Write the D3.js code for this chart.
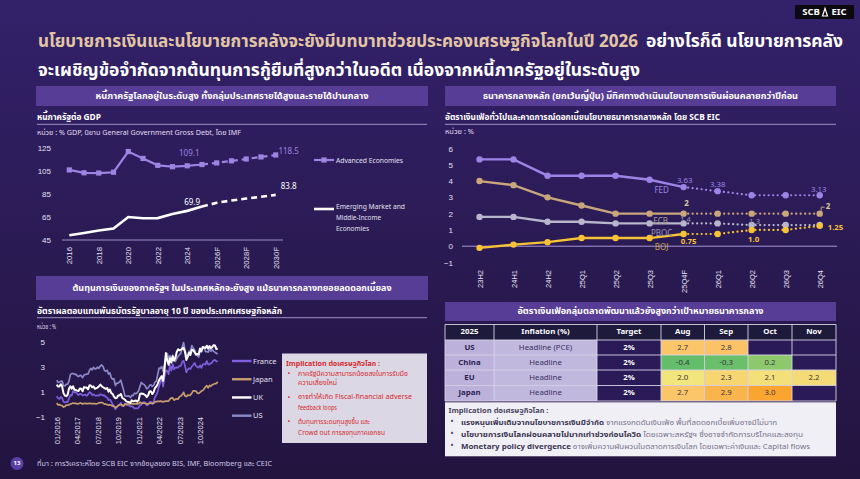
<!DOCTYPE html>
<html><head><meta charset="utf-8">
<script src="https://cdn.jsdelivr.net/npm/d3@7"></script>
<style>
html,body{margin:0;padding:0;background:#2b1b57;}
svg{display:block;font-family:"Noto Sans Thai","Noto Sans","Open Sans","DejaVu Sans",sans-serif;}
</style></head><body>
<svg id="c" width="860" height="479"></svg>
<script>
// ---------- DATA ----------
const debtYears = ["2016","2017","2018","2019","2020","2021","2022","2023","2024","2025","2026F","2027F","2028F","2029F","2030F"];
const debtAdvanced = [105.5,103.0,102.8,103.5,121.5,115.5,109.5,108.3,109.1,110.2,111.6,113.4,115.0,116.8,118.5];
const debtEmerging = [48.7,50.7,52.8,54.6,64.5,63.5,63.6,67.2,69.9,73.6,76.9,78.9,80.6,82.2,83.8];
const debtTickLabels = ["2016","2018","2020","2022","2024","2026F","2028F","2030F"];
const debtYTicks = [45,65,85,105,125];

const policyPeriods = ["23H2","24H1","24H2","25Q1","25Q2","25Q3","25Q4F","26Q1","26Q2","26Q3","26Q4"];
const fedRate  = [5.33,5.33,4.33,4.33,4.33,4.08,3.63,3.38,3.13,3.13,3.13];
const ecbRate  = [4.0,3.75,3.0,2.5,2.0,2.0,2.0,2.0,2.0,2.0,2.0];
const pbocRate = [1.8,1.8,1.5,1.5,1.4,1.4,1.4,1.4,1.3,1.3,1.3];
const bojRate  = [-0.1,0.1,0.25,0.5,0.5,0.5,0.75,0.75,1.0,1.0,1.25];
const policyYTicks = [-1,0,1,2,3,4,5,6];

const bondUS = [1.92,1.74,1.78,1.83,1.85,1.49,1.46,1.58,1.60,1.84,2.37,2.45,
 2.45,2.39,2.40,2.28,2.21,2.31,2.29,2.12,2.33,2.38,2.41,2.41,
 2.72,2.87,2.74,2.95,2.83,2.85,2.96,2.86,3.06,3.14,3.01,2.69,
 2.63,2.72,2.41,2.51,2.13,2.00,2.02,1.50,1.68,1.69,1.78,1.92,
 1.51,1.13,0.67,0.64,0.65,0.66,0.53,0.70,0.68,0.88,0.84,0.92,
 1.07,1.44,1.74,1.63,1.58,1.45,1.22,1.31,1.49,1.55,1.43,1.51,
 1.78,1.83,2.32,2.89,2.85,3.01,2.65,3.19,3.83,4.05,3.61,3.88,
 3.51,3.92,3.47,3.42,3.64,3.84,3.96,4.09,4.57,4.93,4.33,3.88,
 3.91,4.25,4.20,4.68,4.50,4.36,4.03,3.91,3.78,4.28,4.17,4.57,
 4.54,4.21,4.21,4.16,4.40,4.23,4.37,4.23,4.15,4.08,4.02];
const bondUK = [1.56,1.41,1.42,1.60,1.43,0.87,0.69,0.64,0.75,1.25,1.43,1.24,
 1.43,1.15,1.14,1.09,1.05,1.26,1.23,1.04,1.37,1.33,1.33,1.19,
 1.51,1.50,1.35,1.42,1.23,1.28,1.33,1.43,1.57,1.44,1.36,1.28,
 1.22,1.30,1.00,1.18,0.89,0.83,0.61,0.48,0.49,0.69,0.70,0.82,
 0.52,0.44,0.36,0.23,0.18,0.17,0.10,0.31,0.23,0.26,0.30,0.20,
 0.33,0.82,0.85,0.84,0.80,0.72,0.57,0.71,1.02,1.03,0.81,0.97,
 1.30,1.41,1.61,1.91,2.10,2.24,1.86,2.80,4.09,3.51,3.16,3.67,
 3.33,3.83,3.49,3.72,4.18,4.39,4.31,4.36,4.44,4.51,4.18,3.54,
 3.79,4.12,3.93,4.35,4.32,4.17,3.97,4.02,4.00,4.45,4.24,4.57,
 4.54,4.49,4.68,4.44,4.65,4.49,4.57,4.72,4.70,4.41,4.45];
const bondFrance = [0.65,0.47,0.42,0.58,0.50,0.19,0.13,0.18,0.18,0.46,0.74,0.68,
 1.04,0.94,0.97,0.83,0.73,0.82,0.81,0.70,0.74,0.77,0.67,0.79,
 0.97,0.90,0.72,0.79,0.70,0.67,0.71,0.68,0.80,0.76,0.69,0.71,
 0.57,0.54,0.33,0.37,0.21,0.00,-0.18,-0.40,-0.28,-0.07,-0.05,0.12,
 -0.16,-0.15,0.03,0.05,-0.06,-0.11,-0.18,-0.15,-0.24,-0.34,-0.33,-0.34,
 -0.28,-0.07,-0.05,0.11,0.17,0.13,-0.10,-0.04,0.16,0.20,0.02,0.20,
 0.57,0.73,0.98,1.46,1.72,2.26,1.41,2.14,2.72,2.66,2.40,3.12,
 2.69,3.21,2.79,2.93,2.94,2.93,3.06,3.07,3.40,3.47,3.09,2.56,
 2.75,2.89,2.81,3.01,3.14,3.30,3.07,2.98,2.92,3.11,2.90,3.19,
 3.21,3.17,3.45,3.19,3.18,3.28,3.35,3.51,3.54,3.42,3.45];
const bondJapan = [0.10,-0.06,-0.03,-0.08,-0.11,-0.23,-0.19,-0.07,-0.08,-0.05,0.02,0.05,
 0.09,0.06,0.07,0.02,0.04,0.08,0.08,0.01,0.06,0.07,0.04,0.05,
 0.08,0.05,0.04,0.05,0.04,0.03,0.06,0.11,0.13,0.13,0.09,0.00,
 0.00,-0.03,-0.08,-0.04,-0.09,-0.16,-0.16,-0.27,-0.21,-0.13,-0.07,-0.02,
 -0.06,-0.15,0.02,-0.04,0.00,0.03,0.02,0.05,0.01,0.04,0.02,0.02,
 0.05,0.16,0.09,0.09,0.08,0.06,0.02,0.02,0.07,0.10,0.06,0.07,
 0.18,0.20,0.22,0.23,0.24,0.23,0.18,0.23,0.25,0.25,0.25,0.42,
 0.49,0.50,0.32,0.39,0.43,0.40,0.60,0.65,0.77,0.95,0.67,0.61,
 0.73,0.71,0.73,0.88,1.07,1.06,1.05,0.90,0.86,0.95,1.05,1.10,
 1.24,1.38,1.49,1.31,1.51,1.43,1.56,1.60,1.65,1.66,1.80];
const bondTickLabels = ["01/2016","04/2017","07/2018","10/2019","01/2021","04/2022","07/2023","10/2024"];
const bondYTicks = [-1,1,3,5];

const inflCountries = ["US","China","EU","Japan"];
const inflMeasures = ["Headline (PCE)","Headline","Headline","Headline"];
const inflTargets = ["2%","2%","2%","2%"];
const inflHeaders = ["2025","Inflation (%)","Target","Aug","Sep","Oct","Nov"];
const inflUS = [2.7,2.8,null,null];
const inflChina = [-0.4,-0.3,0.2,null];
const inflEU = [2.0,2.3,2.1,2.2];
const inflJapan = [2.7,2.9,3.0,null];

// ---------- SETUP ----------
const svg = d3.select("#c");
const defs = svg.append("defs");
const gr = defs.append("linearGradient").attr("id","bg").attr("x1",0).attr("y1",0).attr("x2",0).attr("y2",1);
gr.append("stop").attr("offset","0%").attr("stop-color","#33216a");
gr.append("stop").attr("offset","100%").attr("stop-color","#22143f");
svg.append("rect").attr("width",860).attr("height",479).attr("fill","url(#bg)");

function fit(t, w){
  const L = t.node().getComputedTextLength();
  if (L > 0 && w) t.attr("textLength", w).attr("lengthAdjust","spacingAndGlyphs");
  return t;
}
function txt(p, x, y, s, o={}){
  const t = p.append("text").attr("x",x).attr("y",y).text(s)
    .attr("font-size",o.size||8).attr("fill",o.fill||"#fff")
    .attr("font-weight",o.bold?"bold":"normal")
    .attr("text-anchor",o.anchor||"start")
    .attr("dominant-baseline","central");
  if (o.w) fit(t,o.w);
  return t;
}

// ---------- TITLE ----------
txt(svg,38,42,"นโยบายการเงินและนโยบายการคลังจะยังมีบทบาทช่วยประคองเศรษฐกิจโลกในปี 2026",{size:17,bold:true,fill:"#e2c6a4",w:600});
txt(svg,646,42,"อย่างไรก็ดี นโยบายการคลัง",{size:17,bold:true,w:197});
txt(svg,38,71,"จะเผชิญข้อจำกัดจากต้นทุนการกู้ยืมที่สูงกว่าในอดีต เนื่องจากหนี้ภาครัฐอยู่ในระดับสูง",{size:17,bold:true,w:602});
// logo
svg.append("rect").attr("x",795).attr("y",5).attr("width",59).attr("height",14).attr("fill","#0a0a10");
txt(svg,811,12.3,"SCB",{size:9.5,bold:true,anchor:"middle"});
svg.append("path").attr("d","M822.5,16 L825,8.5 L827.5,16 Z").attr("fill","none").attr("stroke","#fff").attr("stroke-width",1.2);
txt(svg,839,12.3,"EIC",{size:9.5,bold:true,anchor:"middle"});

// ---------- PANEL HEADERS ----------
const barFill = "#573d96";
function header(x,y,w,h,s,tw){
  svg.append("rect").attr("x",x).attr("y",y).attr("width",w).attr("height",h).attr("fill",barFill);
  txt(svg,x+w/2,y+h/2,s,{size:8.5,bold:true,anchor:"middle",w:tw});
}
header(36,86,392,20,"หนี้ภาครัฐโลกอยู่ในระดับสูง ทั้งกลุ่มประเทศรายได้สูงและรายได้ปานกลาง",273);
header(445,86,391,20,"ธนาคารกลางหลัก (ยกเว้นญี่ปุ่น) มีทิศทางดำเนินนโยบายการเงินผ่อนคลายกว่าปีก่อน",315);
header(36,276,392,24,"ต้นทุนการเงินของภาครัฐฯ ในประเทศหลักจะยังสูง แม้ธนาคารกลางทยอยลดดอกเบี้ยลง",319);
header(445,302,391,19,"อัตราเงินเฟ้อกลุ่มตลาดพัฒนาแล้วยังสูงกว่าเป้าหมายธนาคารกลาง",246);

function subtitle(x,y,s,w,x2,uy,unit,uw,ly){
  txt(svg,x,y,s,{size:8.5,bold:true,w:w});
  svg.append("line").attr("x1",x).attr("x2",x2).attr("y1",ly).attr("y2",ly).attr("stroke","#b9aee0").attr("stroke-width",0.8);
  txt(svg,x,uy,unit,{size:6.8,fill:"#e2ddf0",w:uw});
}
subtitle(37,117,"หนี้ภาครัฐต่อ GDP",64,427,132.5,"หน่วย : % GDP, นิยาม General Government Gross Debt, โดย IMF",204,124.3);
subtitle(445,117,"อัตราเงินเฟ้อทั่วไปและคาดการณ์ดอกเบี้ยนโยบายธนาคารกลางหลัก โดย SCB EIC",275,836,132,"หน่วย : %",29,124.3);
subtitle(37,311.5,"อัตราผลตอบแทนพันธบัตรรัฐบาลอายุ 10 ปี ของประเทศเศรษฐกิจหลัก",245,427,327.3,"หน่วย : %",19,317.7);

// ---------- CHART 1: DEBT ----------
const xD = d3.scalePoint().domain(debtYears).range([69.3,275.7]);
const yD = d3.scaleLinear().domain([45,125]).range([239.5,147.5]);
const g1 = svg.append("g");
g1.append("g").attr("transform","translate(51,0)")
  .call(d3.axisLeft(yD).tickValues(debtYTicks).tickFormat(d3.format("d")).tickSize(0).tickPadding(0))
  .call(a=>a.select(".domain").remove())
  .selectAll("text").attr("fill","#e4e0f0").attr("font-size",8);
g1.append("line").attr("x1",62).attr("x2",283).attr("y1",240).attr("y2",240).attr("stroke","#9d90c8").attr("stroke-width",1);
g1.append("g").attr("transform","translate(0,247)")
  .call(d3.axisBottom(xD).tickValues(debtTickLabels).tickSize(0))
  .call(a=>a.select(".domain").remove())
  .selectAll("text").attr("transform","rotate(-90)").attr("text-anchor","end")
  .attr("x",0).attr("y",0).attr("dy","0.34em").attr("fill","#e4e0f0").attr("font-size",7.8);

const fc1 = debtYears.indexOf("2025");
function series1(arr){ return debtYears.map((k,i)=>({k, v:arr[i], i})); }
const lD = d3.line().x(d=>xD(d.k)).y(d=>yD(d.v));
const ae = series1(debtAdvanced), em = series1(debtEmerging);
const aeCol = "#9c84e2";
g1.append("path").attr("d",lD(ae.slice(0,fc1+1))).attr("fill","none").attr("stroke",aeCol).attr("stroke-width",2.2);
g1.append("path").attr("d",lD(ae.slice(fc1))).attr("fill","none").attr("stroke",aeCol).attr("stroke-width",2.2).attr("stroke-dasharray","6,4");
g1.selectAll("rect.ae").data(ae).join("rect").attr("x",d=>xD(d.k)-2.6).attr("y",d=>yD(d.v)-2.6).attr("width",5.2).attr("height",5.2).attr("fill",aeCol);
g1.append("path").attr("d",lD(em.slice(0,fc1+1))).attr("fill","none").attr("stroke","#ffffff").attr("stroke-width",2.6);
g1.append("path").attr("d",lD(em.slice(fc1))).attr("fill","none").attr("stroke","#ffffff").attr("stroke-width",2.6).attr("stroke-dasharray","6,4");
const fmt1 = d3.format(".1f");
const iAE24 = debtYears.indexOf("2024"), iLast = debtYears.length-1;
txt(g1, xD(debtYears[iAE24])+2, yD(debtAdvanced[iAE24])-12, fmt1(debtAdvanced[iAE24]), {size:8,fill:"#9c84e2",anchor:"middle"});
txt(g1, xD(debtYears[iLast])+13, yD(debtAdvanced[iLast])-3, fmt1(debtAdvanced[iLast]), {size:8,fill:"#9c84e2",anchor:"middle"});
txt(g1, xD(debtYears[iAE24])+5, yD(debtEmerging[iAE24])-8, fmt1(debtEmerging[iAE24]), {size:8,fill:"#ffffff",anchor:"middle"});
txt(g1, xD(debtYears[iLast])+13, yD(debtEmerging[iLast])-8, fmt1(debtEmerging[iLast]), {size:8,fill:"#ffffff",anchor:"middle"});
// legend
g1.append("line").attr("x1",314).attr("x2",334).attr("y1",160).attr("y2",160).attr("stroke",aeCol).attr("stroke-width",2.2);
g1.append("rect").attr("x",321.4).attr("y",157.4).attr("width",5.2).attr("height",5.2).attr("fill",aeCol);
txt(g1,336,160,"Advanced Economies",{size:7.3,fill:"#e4e0f0",w:67});
g1.append("line").attr("x1",314).attr("x2",334).attr("y1",209).attr("y2",209).attr("stroke","#fff").attr("stroke-width",2.6);
txt(g1,336,206.7,"Emerging Market and",{size:7.3,fill:"#e4e0f0",w:69});
txt(g1,336,217.5,"Middle-Income",{size:7.3,fill:"#e4e0f0",w:45});
txt(g1,336,228.3,"Economies",{size:7.3,fill:"#e4e0f0",w:33});

// ---------- CHART 2: POLICY RATES ----------
const xP = d3.scalePoint().domain(policyPeriods).range([479.5,819.7]);
const yP = d3.scaleLinear().domain([-1,6]).range([262.5,148.5]);
const g2 = svg.append("g");
g2.append("g").attr("transform","translate(453,0)")
  .call(d3.axisLeft(yP).tickValues(policyYTicks).tickFormat(d3.format("d")).tickSize(0).tickPadding(0))
  .call(a=>a.select(".domain").remove())
  .selectAll("text").attr("fill","#e4e0f0").attr("font-size",8);
g2.append("line").attr("x1",462).attr("x2",837).attr("y1",yP(0)).attr("y2",yP(0)).attr("stroke","#a898d8").attr("stroke-width",1);
g2.append("g").attr("transform","translate(0,270)")
  .call(d3.axisBottom(xP).tickSize(0))
  .call(a=>a.select(".domain").remove())
  .selectAll("text").attr("transform","rotate(-90)").attr("text-anchor","end")
  .attr("x",0).attr("y",0).attr("dy","0.34em").attr("fill","#e4e0f0").attr("font-size",7.5);

const fc2 = policyPeriods.indexOf("25Q4F");
const lP = d3.line().x(d=>xP(d.k)).y(d=>yP(d.v));
const polSeries = [
  {name:"PBOC", vals:pbocRate, col:"#b8b6cc"},
  {name:"ECB", vals:ecbRate, col:"#c9a67c"},
  {name:"FED", vals:fedRate, col:"#9c84e6"},
  {name:"BOJ", vals:bojRate, col:"#f7c235"}
];
polSeries.forEach(s=>{
  const d = policyPeriods.map((k,i)=>({k, v:s.vals[i]}));
  g2.append("path").attr("d",lP(d.slice(0,fc2+1))).attr("fill","none").attr("stroke",s.col).attr("stroke-width",2.4);
  g2.append("path").attr("d",lP(d.slice(fc2))).attr("fill","none").attr("stroke",s.col).attr("stroke-width",2.2)
    .attr("stroke-dasharray","0.1,4.4").attr("stroke-linecap","round");
  g2.selectAll(null).data(d).join("circle").attr("cx",p=>xP(p.k)).attr("cy",p=>yP(p.v)).attr("r",3.2).attr("fill",s.col);
});
const f2 = d3.format(".2f");
const P = (k)=>xP(k);
// FED labels
[[6,1,-6],[7,0,-6],[10,-1,-5.5]].forEach(([i,dx,dy])=>txt(g2,P(policyPeriods[i])+dx,yP(fedRate[i])+dy,f2(fedRate[i]),{size:7.8,fill:"#9c84e6",anchor:"middle"}));
txt(g2,P("25Q4F")-22,yP(fedRate[fc2])+4,"FED",{size:8,fill:"#9c84e6",anchor:"middle"});
// ECB
txt(g2,P("25Q4F")+3,yP(ecbRate[fc2])-10,d3.format("d")(ecbRate[fc2]),{size:8,bold:true,fill:"#d9c7a2",anchor:"middle"});
const xe = P("26Q4"), ye = yP(ecbRate[10]);
g2.append("path").attr("d",`M${xe+1.5},${ye-3} L${xe+1.5},${ye-6.5} L${xe+5},${ye-6.5}`).attr("fill","none").attr("stroke","#c9a67c").attr("stroke-width",1);
txt(g2,xe+6,ye-6.5,d3.format("d")(ecbRate[10]),{size:8,bold:true,fill:"#d9c7a2"});
txt(g2,P("25Q4F")-23,yP(ecbRate[fc2])+8,"ECB",{size:8,fill:"#ab9f95",anchor:"middle"});
// PBOC
txt(g2,P("25Q4F")+2,yP(pbocRate[fc2])-3.5,d3.format(".1f")(pbocRate[fc2]),{size:7.5,fill:"#9a98b4",anchor:"middle"});
txt(g2,P("26Q2")+3,yP(pbocRate[8])-4,d3.format(".1f")(pbocRate[8]),{size:7.5,fill:"#9a98b4",anchor:"middle"});
txt(g2,P("25Q4F")-22,yP(pbocRate[fc2])+10.5,"PBOC",{size:8,fill:"#9a98b4",anchor:"middle"});
// BOJ
txt(g2,P("25Q4F")+5,yP(bojRate[fc2])+8,f2(bojRate[fc2]),{size:7.8,bold:true,fill:"#f7c235",anchor:"middle"});
txt(g2,P("26Q2")+2,yP(bojRate[8])+10,d3.format(".1f")(bojRate[8]),{size:7.8,bold:true,fill:"#f7c235",anchor:"middle"});
txt(g2,P("26Q4")+8,yP(bojRate[10])+2,f2(bojRate[10]),{size:7.8,bold:true,fill:"#f7c235"});
txt(g2,P("25Q4F")-22,yP(bojRate[fc2])+14,"BOJ",{size:8,fill:"#c9a050",anchor:"middle"});

// ---------- CHART 3: BOND YIELDS ----------
const months = d3.timeMonth.range(new Date(2016,0,1), new Date(2025,11,1));
const parseM = d3.timeParse("%m/%Y");
const xB = d3.scaleTime().domain([parseM("01/2016"), parseM("10/2024")]).range([56.7,200]);
const yB = d3.scaleLinear().domain([-1,5]).range([416.7,341.7]);
const g3 = svg.append("g");
g3.append("g").attr("transform","translate(45,0)")
  .call(d3.axisLeft(yB).tickValues(bondYTicks).tickFormat(d3.format("d")).tickSize(0).tickPadding(0))
  .call(a=>a.select(".domain").remove())
  .selectAll("text").attr("fill","#e4e0f0").attr("font-size",8);
g3.append("g").attr("transform","translate(0,417)")
  .call(d3.axisBottom(xB).tickValues(bondTickLabels.map(parseM)).tickFormat(d3.timeFormat("%m/%Y")).tickSize(0))
  .call(a=>a.select(".domain").remove())
  .selectAll("text").attr("transform","rotate(-90)").attr("text-anchor","end")
  .attr("x",0).attr("y",0).attr("dy","0.34em").attr("fill","#e4e0f0").attr("font-size",7.5);
const lB = d3.line().x(d=>xB(d.t)).y(d=>yB(d.v));
const bondSeries = [
  {name:"US", vals:bondUS, col:"#8b88c6", w:1.7},
  {name:"France", vals:bondFrance, col:"#7f5fdc", w:1.7},
  {name:"Japan", vals:bondJapan, col:"#c89f6c", w:1.7},
  {name:"UK", vals:bondUK, col:"#ffffff", w:2}
];
bondSeries.forEach(s=>{
  const d = months.map((t,i)=>({t, v:s.vals[i]}));
  g3.append("path").attr("d",lB(d)).attr("fill","none").attr("stroke",s.col).attr("stroke-width",s.w).attr("stroke-linejoin","round");
});
const legOrder = ["France","Japan","UK","US"];
const legY = d3.scalePoint().domain(legOrder).range([361,415.7]);
legOrder.forEach(n=>{
  const s = bondSeries.find(b=>b.name===n);
  g3.append("line").attr("x1",232).attr("x2",251.5).attr("y1",legY(n)).attr("y2",legY(n)).attr("stroke",s.col).attr("stroke-width",2.4);
  txt(g3,253,legY(n),n,{size:7.5,fill:"#e4e0f0"});
});
// implication box
svg.append("rect").attr("x",282).attr("y",353.5).attr("width",145).attr("height",89.5).attr("fill","#dcd7e4");
const red = "#d42a2f";
txt(svg,286,363.5,"Implication ต่อเศรษฐกิจโลก :",{size:7.3,bold:true,fill:red,w:94});
const blines = [
  ["ภาครัฐมีความสามารถน้อยลงในการรับมือ",110,373.7,true],["ความเสี่ยงใหม่",39,383.3,false],
  ["อาจทำให้เกิด Fiscal-financial adverse",114,397.3,true],["feedback loops",39,408.3,false],
  ["ต้นทุนการระดมทุนสูงขึ้น และ",72,421.7,true],["Crowd out การลงทุนภาคเอกชน",87,432.7,false]
];
blines.forEach(([s,w,y,b])=>{
  if(b) txt(svg,289,y,"•",{size:7.5,fill:red,anchor:"middle"});
  txt(svg,298,y,s,{size:7,fill:red,w:w});
});

// ---------- TABLE ----------
const colX = [445,494,597,661,704.5,748,792,836];
const rowY = [324.5,340,355,370,385.5,401];
const gt = svg.append("g");
const inflRows = [inflUS, inflChina, inflEU, inflJapan];
const cellCol = d3.scaleLinear().domain([-0.4,0.2,2.0,2.3,2.8,3.0])
  .range(["#63bd6a","#8dc96c","#f2e57c","#f7d672","#fbc267","#f9a530"]);
const dark = "#2a1a57";
inflHeaders.forEach((h,c)=>{
  gt.append("rect").attr("x",colX[c]).attr("y",rowY[0]).attr("width",colX[c+1]-colX[c]).attr("height",rowY[1]-rowY[0]).attr("fill","#1d1a3b");
  txt(gt,(colX[c]+colX[c+1])/2,(rowY[0]+rowY[1])/2,h,{size:7.8,bold:true,anchor:"middle"});
});
inflCountries.forEach((cn,r)=>{
  const y0=rowY[r+1], y1=rowY[r+2], cy=(y0+y1)/2;
  const cells = [
    {t:cn, f:"#bbb1da", c:"#2a2050", b:true},
    {t:inflMeasures[r], f:"#c1b8de", c:"#3a3060", b:false},
    {t:inflTargets[r], f:dark, c:"#ffffff", b:true}
  ].concat(inflRows[r].map(v=> v==null ? {t:"",f:dark,c:"#fff"} : {t:d3.format(".1f")(v), f:cellCol(v), c:"#3a3540", b:false}));
  cells.forEach((d,c)=>{
    gt.append("rect").attr("x",colX[c]).attr("y",y0).attr("width",colX[c+1]-colX[c]).attr("height",y1-y0).attr("fill",d.f);
    if(d.t) txt(gt,(colX[c]+colX[c+1])/2,cy,d.t,{size:7.8,bold:d.b,fill:d.c,anchor:"middle"});
  });
});
colX.forEach(x=>gt.append("line").attr("x1",x).attr("x2",x).attr("y1",rowY[0]).attr("y2",rowY[5]).attr("stroke","#d8d3e8").attr("stroke-width",0.9));
rowY.forEach(y=>gt.append("line").attr("x1",colX[0]).attr("x2",colX[7]).attr("y1",y).attr("y2",y).attr("stroke","#d8d3e8").attr("stroke-width",0.9));

// implication box 2
svg.append("rect").attr("x",445).attr("y",402.3).attr("width",391).attr("height",54).attr("fill","#f1eff6");
txt(svg,448.5,410.8,"Implication ต่อเศรษฐกิจโลก :",{size:7.3,bold:true,fill:"#4a4560",w:100});
const impl2 = [
  ["แรงหนุนเพิ่มเติมจากนโยบายการเงินมีจำกัด"," จากแรงกดดันเงินเฟ้อ พื้นที่ลดดอกเบี้ยเพิ่มอาจมีไม่มาก",316,422],
  ["นโยบายการเงินโลกผ่อนคลายไม่มากเท่าช่วงก่อนโควิด"," โดยเฉพาะสหรัฐฯ ซึ่งอาจจำกัดการบริโภคและลงทุน",342,433.6],
  ["Monetary policy divergence"," อาจเพิ่มความผันผวนในตลาดการเงินโลก โดยเฉพาะค่าเงินและ Capital flows",349,445.5]
];
impl2.forEach(([b,n,w,y])=>{
  txt(svg,452,y,"•",{size:8,fill:"#3a3550",anchor:"middle"});
  const t = svg.append("text").attr("x",461).attr("y",y).attr("dominant-baseline","central").attr("font-size",7.2);
  t.append("tspan").attr("font-weight","bold").attr("fill","#3a3550").text(b);
  t.append("tspan").attr("fill","#77728a").text(n);
  fit(t,w);
});

// ---------- FOOTER ----------
svg.append("circle").attr("cx",17).attr("cy",463.5).attr("r",6.5).attr("fill","#5a3fa6");
txt(svg,17,463.7,"13",{size:6,fill:"#fff",anchor:"middle",bold:true});
txt(svg,37,463.5,"ที่มา : การวิเคราะห์โดย SCB EIC จากข้อมูลของ BIS, IMF, Bloomberg และ CEIC",{size:6.8,fill:"#cfc8e6",w:235});
</script>
</body></html>
